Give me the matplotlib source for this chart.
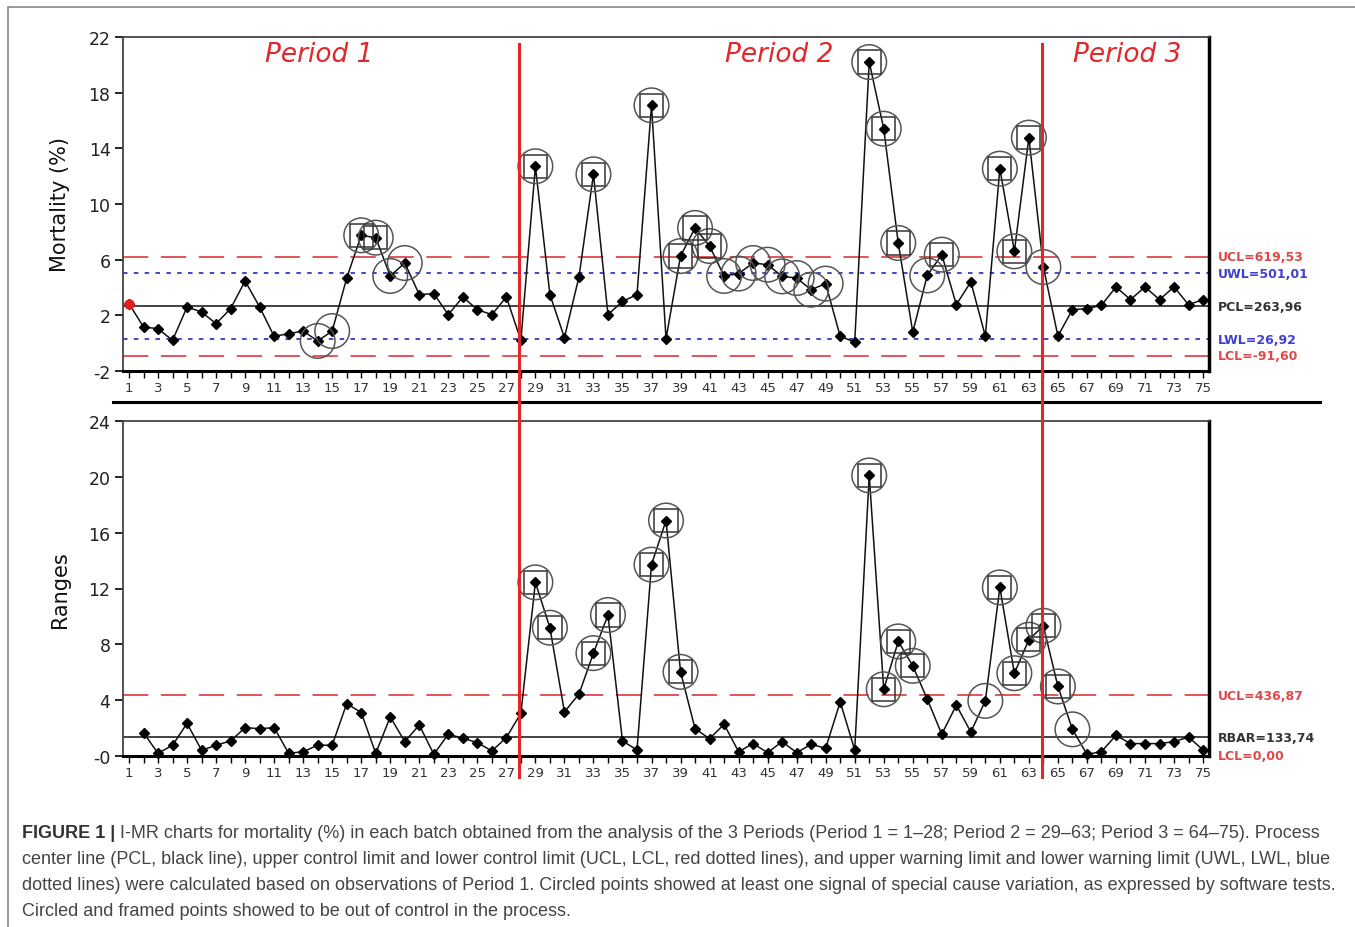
import numpy as np
import matplotlib
matplotlib.use("Agg")
import matplotlib.pyplot as plt
from matplotlib.lines import Line2D
from matplotlib.patches import Rectangle
import matplotlib.transforms as mtransforms

# mortality (%) per batch
mortality = [2.84, 1.16, 1.04, 0.20, 2.60, 2.24, 1.40, 2.48, 4.47, 2.60,
             0.49, 0.68, 0.87, 0.16, 0.87, 4.68, 7.75, 7.58, 4.83, 5.76,
             3.49, 3.56, 2.05, 3.32, 2.41, 2.05, 3.32, 0.20, 12.71, 3.49,
             0.40, 4.75, 12.13, 2.05, 3.00, 3.49, 17.09, 0.32, 6.26, 8.28,
             6.98, 4.83, 5.00, 5.76, 5.64, 4.80, 4.68, 3.84, 4.28, 0.49,
             0.08, 20.20, 15.41, 7.20, 0.80, 4.87, 6.36, 2.77, 4.40, 0.51,
             12.54, 6.60, 14.77, 5.47, 0.51, 2.41, 2.48, 2.72, 4.04, 3.13,
             4.04, 3.13, 4.04, 2.77, 3.13]
# moving ranges, batches 2..75
ranges = [1.67, 0.19, 0.77, 2.34, 0.41, 0.77, 1.08, 2.03, 1.96, 2.03,
          0.19, 0.31, 0.77, 0.77, 3.76, 3.11, 0.19, 2.80, 1.03, 2.22,
          0.12, 1.56, 1.27, 0.96, 0.36, 1.32, 3.06, 12.44, 9.19, 3.16,
          4.43, 7.37, 10.10, 1.08, 0.43, 13.71, 16.87, 6.03, 1.96, 1.24,
          2.27, 0.31, 0.89, 0.24, 1.03, 0.24, 0.84, 0.55, 3.88, 0.43,
          20.10, 4.78, 8.21, 6.46, 4.07, 1.56, 3.64, 1.72, 3.95, 12.08,
          5.93, 8.33, 9.33, 4.98, 1.91, 0.12, 0.31, 1.48, 0.89, 0.89,
          0.89, 1.03, 1.36, 0.43]

top_circled = [14, 15, 19, 20, 42, 43, 44, 45, 46, 47, 48, 49, 56, 64]
top_framed = [17, 18, 29, 33, 37, 39, 40, 41, 52, 53, 54, 57, 61, 62, 63]
bot_circled = [60, 66]
bot_framed = [29, 30, 33, 34, 37, 38, 39, 52, 53, 54, 55, 61, 62, 63, 64, 65]

i_limits = {"UCL": 6.1953, "UWL": 5.0101, "PCL": 2.6396, "LWL": 0.2692, "LCL": -0.9160}
i_labels = {"UCL": "UCL=619,53", "UWL": "UWL=501,01", "PCL": "PCL=263,96",
            "LWL": "LWL=26,92", "LCL": "LCL=-91,60"}
mr_limits = {"UCL": 4.3687, "RBAR": 1.3374, "LCL": 0.0}
mr_labels = {"UCL": "UCL=436,87", "RBAR": "RBAR=133,74", "LCL": "LCL=0,00"}

period_breaks = [27.85, 63.9]
period_names = ["Period 1", "Period 2", "Period 3"]
period_x = [14.1, 45.8, 69.8]

RED = "#e3262a"
DRED = "#e0484a"
BLUE = "#3838c0"
lim_color = {"UCL": DRED, "LCL": DRED, "UWL": BLUE, "LWL": BLUE, "PCL": "#222222", "RBAR": "#222222"}
lab_color = {"UCL": "#e0484a", "LCL": "#e0484a", "UWL": "#4040d0", "LWL": "#4040d0",
             "PCL": "#333333", "RBAR": "#333333"}

fig = plt.figure(figsize=(13.55, 9.28), dpi=100)
W, H = 1355, 928


def px_axes(x0, y0, x1, y1):
    return fig.add_axes([x0 / W, 1 - y1 / H, (x1 - x0) / W, (y1 - y0) / H])


ax1 = px_axes(123, 38, 1209, 372)
ax2 = px_axes(123, 422, 1209, 757)

x_top = np.arange(1, len(mortality) + 1)
x_bot = np.arange(2, len(ranges) + 2)


def style(ax, ylim, yticks, yticklabels):
    ax.set_xlim(0.587, 75.41)
    ax.set_ylim(*ylim)
    ax.set_yticks(yticks)
    ax.set_yticklabels(yticklabels, fontsize=12.5, color="#222222")
    ax.set_xticks(np.arange(1, 76, 2))
    ax.set_xticks(np.arange(2, 76, 2), minor=True)
    ax.tick_params(axis="x", which="both", direction="out", length=5, width=1,
                   labelsize=9.5, pad=2, labelcolor="#333333")
    ax.tick_params(axis="y", direction="out", length=6, width=1.2, pad=3)
    for s in ["left", "top"]:
        ax.spines[s].set_color("#444444")
        ax.spines[s].set_linewidth(1.3)
    ax.spines["right"].set_color("black")
    ax.spines["right"].set_linewidth(2.5)
    ax.spines["bottom"].set_color("black")
    ax.spines["bottom"].set_linewidth(2.2)


def draw_limits(ax, limits, labels):
    for k, v in limits.items():
        c = lim_color[k]
        if k in ("UCL", "LCL"):
            ax.axhline(v, color=c, lw=1.3, dashes=(14, 7), zorder=1)
        elif k in ("UWL", "LWL"):
            ax.axhline(v, color=c, lw=1.3, dashes=(2.5, 3.5), zorder=1)
        else:
            ax.axhline(v, color=c, lw=1.2, zorder=1)
        ax.text(1.008, v, labels[k], transform=ax.get_yaxis_transform(),
                ha="left", va="center", fontsize=9, color=lab_color[k], fontweight="bold")


def draw_series(ax, xs, ys, circled, framed):
    xs = list(xs)
    ax.plot(xs, ys, color="#111111", lw=1.1, marker="D", ms=5.5, mfc="black",
            mec="black", zorder=3, clip_on=False)
    ring = list(circled) + list(framed)
    ax.scatter(ring, [ys[xs.index(k)] for k in ring], s=620, marker="o",
               facecolors="none", edgecolors="#555555", linewidths=1.1, zorder=4)
    ax.scatter(framed, [ys[xs.index(k)] for k in framed], s=280, marker="s",
               facecolors="none", edgecolors="#333333", linewidths=1.1, zorder=4)


style(ax1, (-2, 22), [22, 18, 14, 10, 6, 2, -2], ["22", "18", "14", "10", "6", "2", "-2"])
style(ax2, (0, 24), [24, 20, 16, 12, 8, 4, 0], ["24", "20", "16", "12", "8", "4", "-0"])

draw_limits(ax1, i_limits, i_labels)
draw_limits(ax2, mr_limits, mr_labels)
draw_series(ax1, x_top, mortality, top_circled, top_framed)
ax1.plot(x_top[0], mortality[0], marker="o", ms=6.5, color="#e02020", zorder=5, clip_on=False)
draw_series(ax2, x_bot, ranges, bot_circled, bot_framed)

ax1.set_ylabel("Mortality (%)", fontsize=15, color="#111111")
ax2.set_ylabel("Ranges", fontsize=15, color="#111111")
ax1.yaxis.set_label_coords(-0.049, 0.5)
ax2.yaxis.set_label_coords(-0.049, 0.5)

for name, px in zip(period_names, period_x):
    ax1.text(px, 20.8, name, color=RED, fontsize=19, fontstyle="italic",
             ha="center", va="center")

# period separators spanning both panels
tr = mtransforms.blended_transform_factory(ax1.transData, fig.transFigure)
for xb in period_breaks:
    fig.lines.append(Line2D([xb, xb], [1 - 45 / H, 1 - 778 / H], transform=tr,
                            color=RED, lw=2.2, zorder=10))

# separator between the two charts
fig.lines.append(Line2D([113 / W, 1320 / W], [1 - 403 / H, 1 - 403 / H],
                        transform=fig.transFigure, color="black", lw=2.2))
# outer frame
fig.patches.append(Rectangle((8 / W, -0.05), 1.2, 1 - 8 / H + 0.05, transform=fig.transFigure,
                             fill=False, edgecolor="#888888", lw=1.2))

cap_font = ["Liberation Sans", "DejaVu Sans"]
cap_lines = [
    "I-MR charts for mortality (%) in each batch obtained from the analysis of the 3 Periods (Period 1 = 1\u201328; Period 2 = 29\u201363; Period 3 = 64\u201375). Process",
    "center line (PCL, black line), upper control limit and lower control limit (UCL, LCL, red dotted lines), and upper warning limit and lower warning limit (UWL, LWL, blue",
    "dotted lines) were calculated based on observations of Period 1. Circled points showed at least one signal of special cause variation, as expressed by software tests.",
    "Circled and framed points showed to be out of control in the process.",
]
cap_y = [838, 864, 890, 916]
t0 = fig.text(22 / W, 1 - cap_y[0] / H, "FIGURE 1 |", fontsize=13, fontweight="bold",
              color="#333333", family=cap_font, va="baseline")
fig.add_artist(plt.Annotation(" " + cap_lines[0], xy=(1, 0), xycoords=t0, fontsize=13,
                              color="#444444", family=cap_font, va="bottom",
                              annotation_clip=False))
for line, yy in zip(cap_lines[1:], cap_y[1:]):
    fig.text(22 / W, 1 - yy / H, line, fontsize=13, color="#444444", family=cap_font,
             va="baseline")

fig.savefig("out.png", dpi=100)
